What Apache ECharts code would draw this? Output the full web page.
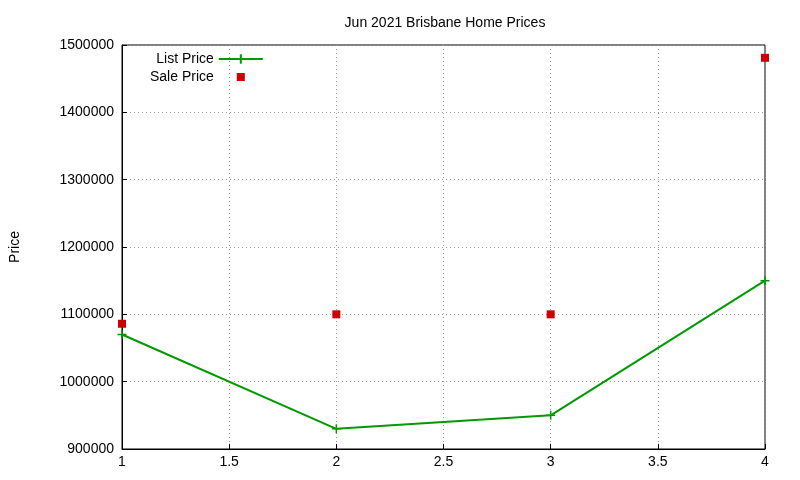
<!DOCTYPE html>
<html><head><meta charset="utf-8">
<script src="https://cdn.jsdelivr.net/npm/echarts@6/dist/echarts.min.js"></script>
<style>html,body{margin:0;background:#fff}#c{width:800px;height:480px}</style>
</head><body><div id="c"></div>
<script>
const xs = [1, 2, 3, 4];
const listPrice = [1070000, 930000, 950000, 1150000];
const salePrice = [1086000, 1100000, 1100000, 1481000];
const chart = echarts.init(document.getElementById('c'));
const font = 'Liberation Sans, Arial, sans-serif';
chart.setOption({
  animation: false,
  textStyle: {fontFamily: font},
  title: {text: 'Jun 2021 Brisbane Home Prices', left: 440, textAlign: 'center', top: 11,
    textStyle: {fontSize: 14, fontWeight: 'normal', color: '#000', fontFamily: font}},
  legend: {left: 145, top: 47, orient: 'vertical', align: 'right', itemGap: 4, itemWidth: 44, itemHeight: 12,
    textStyle: {fontSize: 14, color: '#000', fontFamily: font},
    data: [{name: 'List Price'},
      {name: 'Sale Price', icon: 'path://M18,2h8v8h-8z M0,0h0.01v0.01h-0.01z M44,12h0.01v0.01h-0.01z'}]},
  grid: {left: 119, right: 35, top: 45, bottom: 31, show: true, borderColor: '#000', borderWidth: 1},
  xAxis: {type: 'value', min: 1, max: 4, interval: 0.5,
    axisLine: {lineStyle: {color: '#000'}}, axisTick: {inside: true, lineStyle: {color: '#000'}},
    axisLabel: {color: '#000', fontSize: 14, margin: 6, fontFamily: font},
    splitLine: {show: true, lineStyle: {color: '#999', type: [1, 3]}}},
  yAxis: {type: 'value', min: 900000, max: 1500000, interval: 100000, name: 'Price',
    nameLocation: 'middle', nameGap: 100, nameTextStyle: {fontSize: 14, color: '#000', fontFamily: font},
    axisLine: {show: true, lineStyle: {color: '#000'}}, axisTick: {inside: true, lineStyle: {color: '#000'}},
    axisLabel: {color: '#000', fontSize: 14, margin: 8, fontFamily: font, formatter: v => String(v)},
    splitLine: {show: true, lineStyle: {color: '#999', type: [1, 3]}}},
  series: [
    {name: 'List Price', type: 'line', data: xs.map((x, i) => [x, listPrice[i]]),
      symbol: 'path://M0,5H10M5,0V10', symbolSize: 9,
      lineStyle: {color: '#009900', width: 2},
      itemStyle: {color: '#009900', borderColor: '#009900', borderWidth: 1.5}},
    {name: 'Sale Price', type: 'scatter', data: xs.map((x, i) => [x, salePrice[i]]),
      symbol: 'rect', symbolSize: 8, itemStyle: {color: '#cc0000', opacity: 1}}
  ]
});
</script></body></html>
